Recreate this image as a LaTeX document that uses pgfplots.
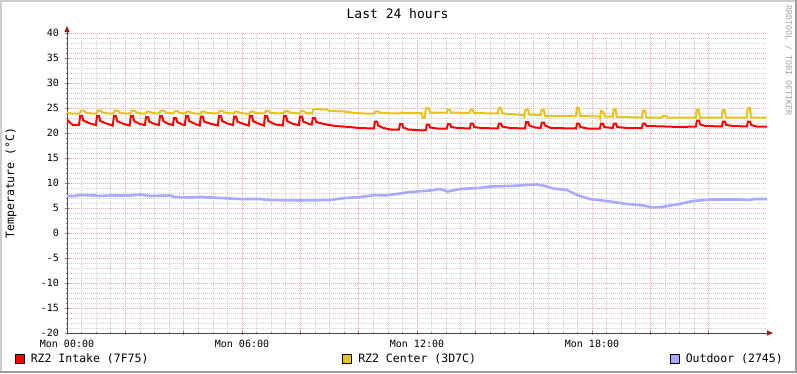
\documentclass[border=0pt]{standalone}
\usepackage{fontspec}
\setmainfont{DejaVu Sans Mono}
\usepackage{pgfplots}
\pgfplotsset{compat=1.18}
\usetikzlibrary{arrows.meta}
\definecolor{intake}{HTML}{FF0000}
\definecolor{center}{HTML}{E8C21E}
\definecolor{outdoor}{HTML}{AAAAFF}
\definecolor{mgrid}{HTML}{F0A8A8}
\definecolor{ngrid}{HTML}{CFCFCF}
\definecolor{axiscol}{HTML}{504646}
\definecolor{arrowcol}{HTML}{9F1A1A}
\definecolor{shadea}{HTML}{CDCDCD}
\definecolor{shadeb}{HTML}{9C9C9C}
\definecolor{wmark}{HTML}{A4A4A4}

\begin{document}
\begin{tikzpicture}[x=1pt,y=1pt]
\fill[white] (0,0) rectangle (797,373);
\fill[shadea] (0,0) rectangle (2,373);
\fill[shadea] (0,371) rectangle (797,373);
\fill[shadeb] (795,0) rectangle (797,373);
\fill[shadeb] (0,0) rectangle (797,2.5);

\node[anchor=base] at (397.5,354.7) {\fontsize{13}{15}\selectfont Last 24 hours};
\node[rotate=-90, anchor=west, text=wmark, inner sep=0pt] at (788.5,367.5) {\fontsize{8.3}{10}\selectfont RRDTOOL / TOBI OETIKER};

\begin{axis}[
  at={(67pt,40pt)}, anchor=south west,
  scale only axis, width=700pt, height=300pt,
  xmin=0, xmax=24, ymin=-20, ymax=40,
  axis x line*=bottom, axis y line*=left,
  x axis line style={draw=axiscol, line width=0.8pt, shorten >=-6pt, -{Triangle[length=6pt,width=5pt,color=arrowcol]}},
  y axis line style={draw=axiscol, line width=0.8pt, shorten >=-7pt, -{Triangle[length=6pt,width=5pt,color=arrowcol]}},
  xtick={0,2,...,22},
  xticklabels={Mon 00:00,,,Mon 06:00,,,Mon 12:00,,,Mon 18:00,,},
  ytick={-20,-15,...,40},
  yticklabels={-20,-15,-10,-5,0,5,10,15,20,25,30,35,40},
  minor x tick num=3, minor y tick num=4,
  grid=both,
  major grid style={draw=mgrid, line width=0.6pt, dash pattern=on 1pt off 1pt},
  minor grid style={draw=ngrid, line width=0.6pt, dash pattern=on 1pt off 1pt},
  tick align=center,
  major tick length=4pt, minor tick length=2pt,
  major tick style={draw=mgrid!70!black, line width=0.6pt},
  minor tick style={draw=black!50, line width=0.6pt},
  tick label style={font=\fontsize{10}{12}\selectfont, inner sep=0pt},
  xticklabel style={anchor=north, yshift=-5pt},
  yticklabel style={anchor=east, xshift=-6pt},
  every axis y label/.style={at={(axis description cs:-0.08,0.5)}, rotate=90, anchor=center},
  ylabel={\fontsize{11.5}{13}\selectfont Temperature (°C)},
  legend style={at={(axis description cs:-0.0743,-0.086)}, anchor=west, draw=none, fill=none,
    inner sep=0pt, outer sep=0pt, font=\fontsize{11.5}{13}\selectfont,
    nodes={inner sep=0pt},
    /tikz/every odd column/.append style={column sep=6pt},
    /tikz/every even column/.append style={column sep=194pt}},
  legend columns=3, legend cell align=left,
]
\addplot[intake, line width=2pt, sharp plot,
  legend image code/.code={\draw[draw=black, fill=intake, line width=0.8pt] (0pt,-4.5pt) rectangle (9pt,4.5pt);}]
table {
0.00 22.7
0.08 22.2
0.20 21.6
0.41 21.6
0.45 23.4
0.52 23.4
0.56 22.5
0.75 22.0
0.99 21.6
1.03 23.4
1.10 23.4
1.14 22.4
1.35 21.9
1.57 21.5
1.61 23.4
1.68 23.4
1.72 22.4
1.95 21.8
2.15 21.5
2.19 23.4
2.26 23.4
2.30 22.4
2.50 21.8
2.67 21.6
2.71 23.2
2.78 23.2
2.82 22.3
3.00 21.8
3.15 21.6
3.19 23.4
3.26 23.4
3.30 22.4
3.45 21.9
3.63 21.6
3.67 23.0
3.74 23.0
3.78 22.2
3.95 21.7
4.04 21.6
4.08 23.4
4.15 23.4
4.19 22.4
4.40 21.8
4.55 21.5
4.59 23.3
4.66 23.3
4.70 22.3
4.95 21.8
5.17 21.5
5.21 23.4
5.28 23.4
5.32 22.4
5.50 21.9
5.69 21.6
5.73 23.3
5.80 23.3
5.84 22.3
6.05 21.8
6.23 21.5
6.27 23.4
6.34 23.4
6.38 22.4
6.60 21.8
6.75 21.5
6.79 23.4
6.86 23.4
6.90 22.4
7.15 21.7
7.40 21.5
7.44 23.4
7.51 23.4
7.55 22.4
7.75 21.8
7.95 21.6
7.99 23.3
8.06 23.3
8.10 22.3
8.30 21.8
8.39 21.7
8.43 23.0
8.50 23.0
8.54 22.2
8.80 21.8
9.20 21.4
9.70 21.2
10.00 21.0
10.52 20.9
10.56 22.3
10.63 22.3
10.67 21.5
10.85 21.0
11.10 20.7
11.38 20.7
11.42 21.8
11.49 21.8
11.53 21.1
11.70 20.7
11.95 20.6
12.20 20.5
12.30 20.6
12.34 21.7
12.41 21.7
12.45 21.1
12.70 20.9
13.02 20.9
13.06 21.8
13.13 21.8
13.17 21.2
13.40 21.0
13.81 20.9
13.85 21.9
13.92 21.9
13.96 21.2
14.20 21.0
14.77 20.9
14.81 21.9
14.88 21.9
14.92 21.3
15.20 21.0
15.70 20.9
15.74 22.2
15.81 22.2
15.85 21.5
16.05 21.1
16.24 21.0
16.28 22.1
16.35 22.1
16.39 21.5
16.60 21.0
17.45 20.9
17.49 21.9
17.56 21.9
17.60 21.2
17.85 20.9
18.27 20.9
18.31 21.9
18.38 21.9
18.42 21.2
18.71 21.0
18.75 21.9
18.82 21.9
18.86 21.2
19.20 21.0
19.71 21.0
19.75 21.9
19.82 21.9
19.86 21.4
20.50 21.3
21.00 21.2
21.56 21.3
21.60 22.5
21.67 22.5
21.71 21.7
21.90 21.4
22.45 21.3
22.49 22.3
22.56 22.3
22.60 21.6
22.85 21.4
23.31 21.3
23.35 22.3
23.42 22.3
23.46 21.6
23.65 21.3
24.00 21.3
};
\addlegendentry{RZ2 Intake (7F75)}

\addplot[center, line width=2pt, sharp plot,
  legend image code/.code={\draw[draw=black, fill=center, line width=0.8pt] (0pt,-4.5pt) rectangle (9pt,4.5pt);}]
table {
0.00 24.1
0.15 23.9
0.42 23.9
0.48 24.5
0.57 24.5
0.65 24.1
0.85 23.9
1.00 23.9
1.06 24.5
1.15 24.5
1.23 24.1
1.43 23.9
1.58 23.9
1.64 24.5
1.73 24.5
1.81 24.1
2.00 23.9
2.16 23.9
2.22 24.5
2.31 24.5
2.39 24.1
2.55 23.9
2.68 23.9
2.74 24.3
2.83 24.3
2.91 24.0
3.16 23.9
3.22 24.5
3.31 24.5
3.39 24.1
3.64 23.9
3.70 24.4
3.79 24.4
3.87 24.0
4.05 23.9
4.11 24.3
4.20 24.3
4.28 24.0
4.56 23.8
4.62 24.3
4.71 24.3
4.79 24.0
5.18 23.9
5.24 24.4
5.33 24.4
5.41 24.1
5.70 23.9
5.76 24.3
5.85 24.3
5.93 24.0
6.24 23.8
6.30 24.3
6.39 24.3
6.47 24.0
6.76 23.9
6.82 24.4
6.91 24.4
6.99 24.0
7.41 23.9
7.47 24.4
7.56 24.4
7.64 24.1
7.96 23.9
8.02 24.4
8.11 24.4
8.19 24.0
8.40 23.9
8.45 24.8
8.90 24.7
9.00 24.4
9.50 24.3
9.90 24.0
10.20 23.9
10.52 23.9
10.58 24.3
10.67 24.3
10.75 24.0
11.38 23.9
11.44 24.1
11.55 24.0
12.15 24.0
12.20 23.1
12.27 23.1
12.30 25.0
12.40 25.0
12.45 24.1
13.02 24.1
13.05 24.7
13.12 24.7
13.16 24.1
13.81 24.0
13.84 24.7
13.91 24.7
13.95 24.0
14.77 23.9
14.80 25.0
14.88 25.0
14.92 23.9
15.65 23.6
15.68 23.3
15.72 24.7
15.80 24.7
15.85 23.7
16.24 23.6
16.27 24.6
16.35 24.6
16.40 23.4
17.45 23.4
17.48 25.0
17.55 25.0
17.59 23.4
18.25 23.3
18.28 22.9
18.31 24.4
18.38 24.2
18.45 23.3
18.71 23.3
18.74 24.8
18.81 24.8
18.85 23.2
19.71 23.1
19.74 24.5
19.81 24.5
19.86 23.1
20.40 23.1
20.43 23.4
20.55 23.4
20.58 23.1
21.56 23.1
21.59 24.7
21.66 24.7
21.70 23.1
22.45 23.1
22.48 24.6
22.55 24.6
22.59 23.1
23.31 23.1
23.34 25.0
23.41 25.0
23.45 23.1
24.00 23.1
};
\addlegendentry{RZ2 Center (3D7C)}

\addplot[outdoor, line width=2.6pt, sharp plot,
  legend image code/.code={\draw[draw=black, fill=outdoor, line width=0.8pt] (0pt,-4.5pt) rectangle (9pt,4.5pt);}]
table {
0.00 7.4
0.27 7.4
0.45 7.6
0.96 7.5
1.13 7.4
1.47 7.5
2.16 7.5
2.50 7.7
2.85 7.4
3.53 7.5
3.70 7.2
4.22 7.1
4.56 7.2
5.25 7.0
5.93 6.8
6.62 6.8
6.96 6.6
7.99 6.5
9.02 6.6
9.53 7.0
10.05 7.2
10.56 7.6
10.90 7.5
11.42 7.9
11.76 8.2
12.45 8.5
12.79 8.8
13.06 8.3
13.47 8.8
14.16 9.0
14.51 9.3
15.19 9.4
15.77 9.6
16.11 9.7
16.39 9.4
16.66 8.9
17.14 8.6
17.49 7.6
17.93 6.8
18.62 6.3
19.20 5.8
19.75 5.5
20.09 5.1
20.40 5.2
20.67 5.5
20.91 5.7
21.46 6.4
22.05 6.7
23.07 6.7
23.35 6.6
23.59 6.8
24.00 6.8
};
\addlegendentry{Outdoor (2745)}
\end{axis}
\pgfresetboundingbox
\path[use as bounding box] (0,0) rectangle (797,373);
\end{tikzpicture}
\end{document}
